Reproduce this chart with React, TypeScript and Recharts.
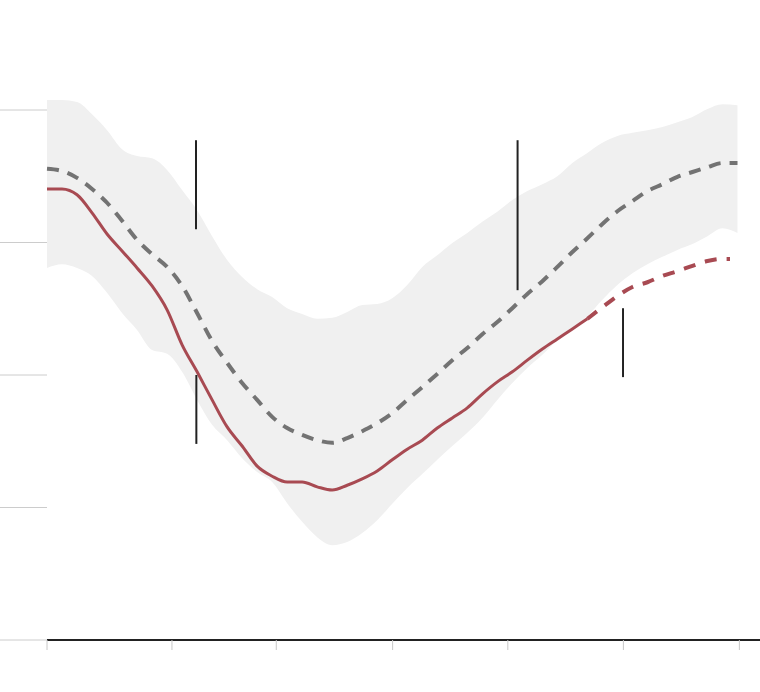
import React from "react";
import {
  ComposedChart,
  Area,
  Line,
  XAxis,
  YAxis,
  ReferenceLine,
} from "recharts";

// x: day index since start of the window
const days = [
  0, 4, 8, 12, 16, 20, 24, 28, 32, 36, 40, 44, 48, 52, 56, 60, 64, 68, 72, 76,
  80, 84, 88, 92, 96, 100, 104, 108, 112, 116, 120, 124, 128, 132, 136, 140,
  144, 148, 152, 156, 160, 164, 168, 172, 176, 180, 184,
];

// historical range (low / high)
const rangeHigh = [
  101.9, 101.9, 101.5, 99.2, 96.2, 92.6, 91.3, 90.9, 88.7, 84.9, 81.1, 76.2,
  71.7, 68.5, 66.2, 64.7, 62.6, 61.5, 60.6, 60.8, 61.9, 63.2, 63.4, 64.5, 67.0,
  70.4, 72.6, 74.9, 76.8, 78.9, 80.8, 83.0, 84.7, 86.0, 87.5, 90.0, 91.9, 93.8,
  95.1, 95.7, 96.2, 96.8, 97.7, 98.7, 100.2, 101.1, 100.9,
];
const rangeLow = [
  70.2, 70.9, 70.2, 68.7, 65.5, 61.7, 58.5, 54.7, 54.0, 50.6, 45.3, 40.6, 37.7,
  34.3, 31.7, 29.8, 25.8, 22.3, 19.4, 17.9, 18.5, 20.2, 22.6, 25.7, 28.7, 31.3,
  34.0, 36.6, 39.1, 41.9, 45.3, 48.5, 51.3, 53.8, 56.6, 58.9, 61.1, 64.2, 67.0,
  69.2, 70.9, 72.3, 73.6, 74.7, 76.2, 77.7, 76.8,
];

// historical average
const average = [
  88.9, 88.5, 87.2, 85.1, 82.5, 79.1, 75.5, 72.8, 70.4, 66.8, 61.7, 56.4, 52.3,
  48.5, 45.3, 42.1, 40.0, 38.7, 37.7, 37.2, 38.1, 39.4, 40.9, 42.8, 45.3, 47.7,
  50.2, 52.8, 55.1, 57.7, 60.0, 62.6, 65.3, 67.7, 70.4, 73.2, 75.8, 78.5, 80.9,
  82.8, 84.7, 86.0, 87.4, 88.3, 89.2, 90.0, 90.0,
];

// this season, observed (first 37 days of the grid)
const observed = [
  85.1, 85.1, 84.0, 80.6, 76.6, 73.4, 70.2, 66.8, 62.3, 55.7, 50.6, 45.3, 40.2,
  36.6, 32.8, 30.9, 29.8, 29.8, 28.9, 28.3, 29.2, 30.4, 31.9, 34.0, 36.0, 37.7,
  40.0, 41.9, 43.8, 46.4, 48.7, 50.6, 52.8, 54.9, 56.8, 58.7, 60.6,
];

// this season, forecast
const forecastDays = [144, 148, 152, 156, 160, 164, 168, 172, 176, 180, 182];
const forecast = [60.6, 62.8, 64.9, 66.6, 67.5, 68.7, 69.6, 70.6, 71.5, 71.9, 71.9];

const xTicks = [0, 33.3, 61.1, 92.1, 122.8, 153.6, 184.5];
const yTicks = [0, 25, 50, 75, 100];

// annotation markers: [day, yFrom, yTo]
const markers: [number, number, number][] = [
  [39.7, 94.3, 77.5],
  [39.8, 50.0, 37.0],
  [125.4, 94.3, 66.0],
  [153.5, 62.6, 49.6],
];

const table = days.map((d, i) => ({
  day: d,
  band: [rangeLow[i], rangeHigh[i]],
  avg: average[i],
  obs: i < observed.length ? observed[i] : null,
}));

const forecastTable = forecastDays.map((d, i) => ({ day: d, fc: forecast[i] }));

const emptyTick = () => <g />;

export default function App() {
  return (
    <div style={{ position: "absolute", left: 0, top: 0 }}>
      <ComposedChart
        width={760}
        height={692}
        data={table}
        margin={{ top: 4, right: 0, bottom: 0, left: 0 }}
      >
        <XAxis
          dataKey="day"
          type="number"
          domain={[0, 190]}
          ticks={xTicks}
          height={52}
          tickSize={10}
          tick={emptyTick}
          axisLine={{ stroke: "#222", strokeWidth: 2 }}
          tickLine={{ stroke: "#c8c8c8" }}
        />
        <YAxis
          type="number"
          domain={[0, 120]}
          ticks={yTicks}
          width={47}
          tickSize={47}
          tick={emptyTick}
          axisLine={false}
          tickLine={{ stroke: "#cccccc" }}
        />
        <Area
          dataKey="band"
          type="monotone"
          fill="#f0f0f0"
          fillOpacity={1}
          stroke="none"
          dot={false}
          activeDot={false}
          isAnimationActive={false}
        />
        <Line
          dataKey="avg"
          type="monotone"
          stroke="#737373"
          strokeWidth={4}
          strokeDasharray="12 9"
          dot={false}
          activeDot={false}
          isAnimationActive={false}
        />
        <Line
          dataKey="obs"
          type="monotone"
          stroke="#a84a52"
          strokeWidth={3}
          dot={false}
          activeDot={false}
          isAnimationActive={false}
        />
        <Line
          data={forecastTable}
          dataKey="fc"
          type="monotone"
          stroke="#a84a52"
          strokeWidth={4}
          strokeDasharray="12 10"
          dot={false}
          activeDot={false}
          isAnimationActive={false}
        />
        {markers.map(([d, y1, y2], i) => (
          <ReferenceLine
            key={i}
            segment={[
              { x: d, y: y1 },
              { x: d, y: y2 },
            ]}
            stroke="#222"
            strokeWidth={2}
          />
        ))}
      </ComposedChart>
    </div>
  );
}
